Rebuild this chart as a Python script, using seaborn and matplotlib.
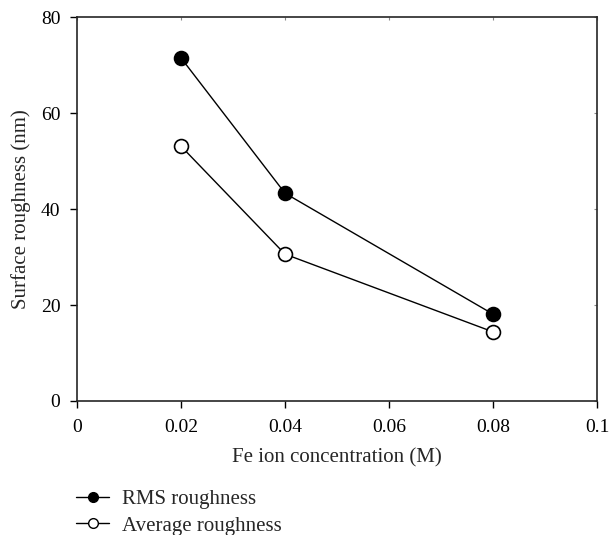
import matplotlib
matplotlib.use("Agg")
import matplotlib.pyplot as plt
import seaborn as sns
import pandas as pd
from matplotlib.lines import Line2D

sns.set_style("ticks")
plt.rcParams['font.family'] = ['Liberation Serif', 'DejaVu Serif']

conc = [0.02, 0.04, 0.08]
rms = [71.5, 43.3, 18.1]
avg = [53.1, 30.6, 14.4]
xticks = [0, 0.02, 0.04, 0.06, 0.08, 0.1]
xticklabels = ["0", "0.02", "0.04", "0.06", "0.08", "0.1"]
yticks = [0, 20, 40, 60, 80]

df = pd.DataFrame({"conc": conc + conc,
                   "val": rms + avg,
                   "series": ["RMS roughness"] * 3 + ["Average roughness"] * 3})

fig = plt.figure(figsize=(6.09, 5.35), dpi=100)
ax = fig.add_axes([0.1264, 0.2505, 0.8540, 0.7175])

for name, face in [("RMS roughness", "black"), ("Average roughness", "white")]:
    sub = df[df.series == name]
    sns.lineplot(data=sub, x="conc", y="val", ax=ax, color="black", linewidth=1,
                 marker="o", markersize=10, markerfacecolor=face,
                 markeredgecolor="black", markeredgewidth=1.2, legend=False)

ax.set_xlim(0, 0.1)
ax.set_ylim(0, 80)
ax.set_xticks(xticks)
ax.set_xticklabels(xticklabels)
ax.set_yticks(yticks)
ax.tick_params(axis="both", labelsize=14, direction="out", length=5, width=1,
               colors="black", bottom=True, left=True, top=False, right=False)
ax.tick_params(axis="x", pad=8)
ax.tick_params(axis="y", pad=7)
for s in ax.spines.values():
    s.set_visible(True)
    s.set_linewidth(1.2)
# faint inward ticks on the top and right spines
ax2 = ax.secondary_xaxis("top")
ax2.set_xticks(xticks)
ax2.tick_params(direction="in", length=2, width=0.8, colors="#888888", labeltop=False)
ax2.spines["top"].set_visible(False)
ax3 = ax.secondary_yaxis("right")
ax3.set_yticks(yticks)
ax3.tick_params(direction="in", length=2, width=0.8, colors="#888888", labelright=False)
ax3.spines["right"].set_visible(False)

ax.set_xlabel("Fe ion concentration (M)", fontsize=15, labelpad=9)
ax.set_ylabel("Surface roughness (nm)", fontsize=15, labelpad=7)

handles = [Line2D([], [], color="black", lw=1, marker="o", markersize=7,
                  markerfacecolor="black", markeredgecolor="black"),
           Line2D([], [], color="black", lw=1, marker="o", markersize=7,
                  markerfacecolor="white", markeredgecolor="black")]
fig.legend(handles, ["RMS roughness", "Average roughness"], loc="upper left",
           bbox_to_anchor=(0.111, 0.101), frameon=False, fontsize=15,
           handlelength=1.6, labelspacing=0.35, handletextpad=0.6, borderaxespad=0)

fig.savefig("out.png", dpi=100)
